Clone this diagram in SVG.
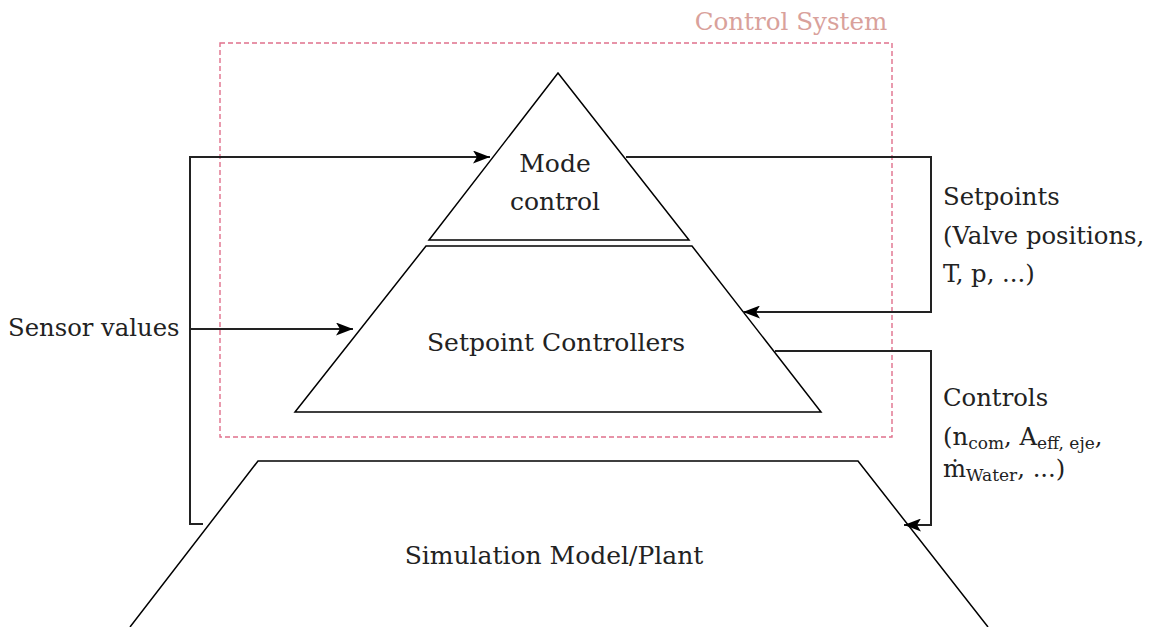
<svg xmlns="http://www.w3.org/2000/svg" width="1160" height="627" viewBox="0 0 1160 627">
  <style>
    .shape { fill: #ffffff; stroke: #000000; stroke-width: 1.5; }
    .wire { fill: none; stroke: #222222; stroke-width: 2; }
    .lbl { font-family: "DejaVu Serif", "Liberation Serif", serif; font-size: 24.3px; fill: #222222; }
    .mid { text-anchor: middle; font-size: 25px; }
    .sub { font-size: 17px; }
    .boundary { fill: none; stroke: #e0708c; stroke-width: 1.4; stroke-dasharray: 5 3; }
    .boundary-lbl { font-family: "DejaVu Serif", "Liberation Serif", serif; font-size: 24.6px; fill: #d9a19b; text-anchor: middle; }
  </style>
  <defs>
    <marker id="arrow" viewBox="0 0 17 13" refX="17" refY="6.5" markerWidth="17" markerHeight="13" markerUnits="userSpaceOnUse" orient="auto">
      <path d="M0,0 L17,6.5 L0,13 L4,6.5 Z" fill="#000000"/>
    </marker>
  </defs>
  <rect width="1160" height="627" fill="#ffffff"/>

  <!-- control system boundary -->
  <g id="control-system">
    <rect class="boundary" x="220" y="43" width="672" height="394"/>
    <text class="boundary-lbl" x="791" y="30">Control System</text>
  </g>

  <!-- plant -->
  <g id="plant">
    <path class="shape" d="M130,627 L258,461 L858,461 L988,627"/>
    <text class="lbl mid" x="554" y="564">Simulation Model/Plant</text>
  </g>

  <!-- setpoint controllers -->
  <g id="setpoint-controllers">
    <path class="shape" d="M295,412 L426,246 L692,246 L821,412 Z"/>
    <text class="lbl mid" x="556" y="351">Setpoint Controllers</text>
  </g>

  <!-- mode control -->
  <g id="mode-control">
    <path class="shape" d="M429,240 L558,73 L689,240 Z"/>
    <text class="lbl mid" x="555" y="172">Mode</text>
    <text class="lbl mid" x="555" y="210">control</text>
  </g>

  <!-- connectors -->
  <g id="connectors">
    <path class="wire" d="M203,524 L190,524 L190,157 L490,157" marker-end="url(#arrow)"/>
    <path class="wire" d="M190,329 L353,329" marker-end="url(#arrow)"/>
    <path class="wire" d="M626,157 L931,157 L931,312 L743,312" marker-end="url(#arrow)"/>
    <path class="wire" d="M775,351 L931,351 L931,525 L904,525" marker-end="url(#arrow)"/>
  </g>

  <!-- connector labels -->
  <g id="labels">
    <text class="lbl" x="8" y="336">Sensor values</text>
    <text class="lbl" x="943" y="205">Setpoints</text>
    <text class="lbl" x="943" y="244">(Valve positions,</text>
    <text class="lbl" x="943" y="282">T, p, ...)</text>
    <text class="lbl" x="943" y="406">Controls</text>
    <text class="lbl" x="943" y="445">(n<tspan class="sub" dy="4">com</tspan><tspan dy="-4">, A</tspan><tspan class="sub" dy="4">eff, eje</tspan><tspan dy="-4">,</tspan></text>
    <text class="lbl" x="943" y="477">ṁ<tspan class="sub" dy="4">Water</tspan><tspan dy="-4">, ...)</tspan></text>
  </g>
</svg>
